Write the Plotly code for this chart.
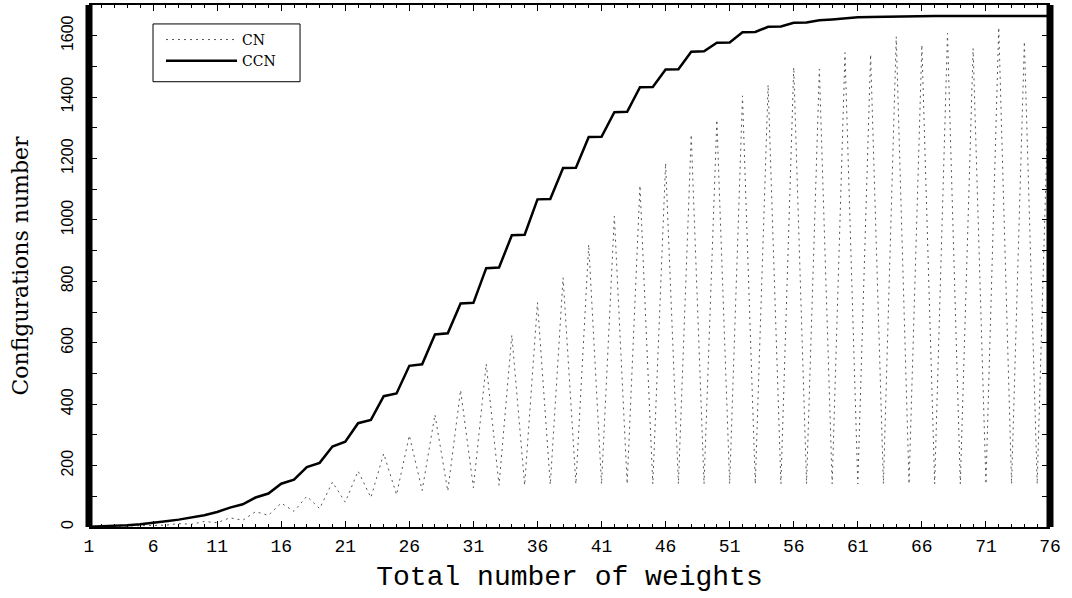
import plotly.graph_objects as go

# ---- data ----
weights = list(range(1, 77))

cn = [1, 2, 2, 4, 4, 7, 6, 11, 9, 18,
      14, 30, 22, 50, 38, 78, 51, 100, 60, 146,
      81, 182, 96, 239, 105, 298, 119, 366, 117, 446,
      128, 531, 136, 625, 136, 731, 138, 812, 140, 920,
      140, 1012, 140, 1112, 140, 1185, 140, 1278, 140, 1326,
      140, 1404, 140, 1440, 140, 1497, 140, 1491, 140, 1545,
      140, 1539, 140, 1597, 140, 1570, 140, 1608, 140, 1559,
      140, 1627, 140, 1581, 140, 1600]

ccn = [1, 2, 4, 6, 9, 13, 19, 24, 30, 38,
       49, 63, 74, 96, 109, 141, 154, 195, 209, 262,
       278, 338, 349, 426, 435, 525, 530, 627, 631, 728,
       730, 843, 845, 950, 952, 1067, 1068, 1169, 1170, 1270,
       1271, 1351, 1352, 1432, 1433, 1490, 1491, 1548, 1549, 1577,
       1578, 1611, 1612, 1629, 1630, 1642, 1643, 1650, 1653, 1657,
       1660, 1661, 1662, 1663, 1663, 1664, 1664, 1664, 1664, 1664,
       1664, 1664, 1664, 1664, 1664, 1664]

x_tickvals = [1, 6, 11, 16, 21, 26, 31, 36, 41, 46, 51, 56, 61, 66, 71, 76]
y_tickvals = [0, 200, 400, 600, 800, 1000, 1200, 1400, 1600]

fig = go.Figure()
fig.add_trace(go.Scatter(
    x=weights, y=cn, mode="lines", name="CN",
    line=dict(color="#555555", width=1, dash="2px,4px"),
))
fig.add_trace(go.Scatter(
    x=weights, y=ccn, mode="lines", name="CCN",
    line=dict(color="black", width=2.5),
))

# thick left/right frame bars
for xv in (0, 1):
    fig.add_shape(type="line", xref="paper", yref="paper",
                  x0=xv, x1=xv, y0=0, y1=1,
                  line=dict(color="black", width=7), layer="above")

# legend frame
fig.add_shape(type="rect", xref="paper", yref="paper",
              x0=0.0666, x1=0.2196, y0=0.853, y1=0.9637,
              line=dict(color="black", width=1), fillcolor="white",
              layer="above")

fig.update_layout(
    width=1072, height=598,
    margin=dict(l=89, r=22, t=3, b=71),
    paper_bgcolor="white", plot_bgcolor="white",
    showlegend=True,
    legend=dict(
        x=0.0666, y=0.9637, xanchor="left", yanchor="top",
        bgcolor="rgba(0,0,0,0)", borderwidth=0,
        font=dict(family="DejaVu Serif", size=14, color="black"),
        itemwidth=71, tracegroupgap=0, indentation=8,
    ),
)

fig.update_xaxes(
    range=[1, 76], tickvals=x_tickvals,
    ticks="inside", ticklen=6, tickwidth=1, tickcolor="black",
    minor=dict(dtick=1, tick0=1, ticks="inside", ticklen=3,
               tickwidth=1, tickcolor="black"),
    showline=True, linewidth=2, linecolor="black", mirror="ticks",
    showgrid=False, zeroline=False,
    tickfont=dict(family="Liberation Mono", size=18, color="black"),
    ticklabelstandoff=1,
    title=dict(text="Total number of weights",
               font=dict(family="Liberation Mono", size=28, color="black"),
               standoff=10),
)

fig.update_yaxes(
    range=[0, 1700], tickvals=y_tickvals,
    ticks="inside", ticklen=8, tickwidth=1, tickcolor="black",
    minor=dict(dtick=100, tick0=0, ticks="inside", ticklen=8,
               tickwidth=1, tickcolor="black"),
    showline=False, mirror="ticks",
    showgrid=False, zeroline=False,
    tickangle=-90,
    tickfont=dict(family="Liberation Sans", size=16, color="black"),
    ticklabelstandoff=12,
    title=dict(text="Configurations number",
               font=dict(family="DejaVu Serif", size=22, color="black"),
               standoff=24),
)

fig.write_html("out.html")
